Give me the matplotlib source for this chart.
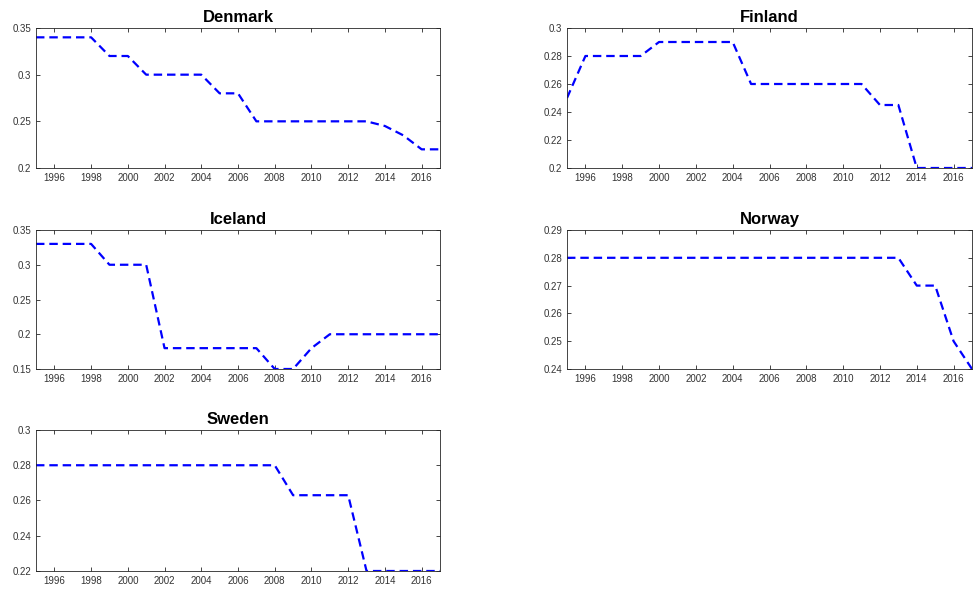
import numpy as np
import matplotlib
matplotlib.use("Agg")
import matplotlib.pyplot as plt

plt.rcParams['font.family'] = ['Liberation Sans', 'DejaVu Sans']

years = list(range(1995, 2018))

denmark = [0.34, 0.34, 0.34, 0.34, 0.32, 0.32, 0.30, 0.30, 0.30, 0.30, 0.28, 0.28,
           0.25, 0.25, 0.25, 0.25, 0.25, 0.25, 0.25, 0.245, 0.235, 0.22, 0.22]
finland = [0.25, 0.28, 0.28, 0.28, 0.28, 0.29, 0.29, 0.29, 0.29, 0.29, 0.26, 0.26,
           0.26, 0.26, 0.26, 0.26, 0.26, 0.245, 0.245, 0.20, 0.20, 0.20, 0.20]
iceland = [0.33, 0.33, 0.33, 0.33, 0.30, 0.30, 0.30, 0.18, 0.18, 0.18, 0.18, 0.18,
           0.18, 0.15, 0.15, 0.18, 0.20, 0.20, 0.20, 0.20, 0.20, 0.20, 0.20]
norway = [0.28] * 19 + [0.27, 0.27, 0.25, 0.24]
sweden = [0.28] * 14 + [0.263, 0.263, 0.263, 0.263] + [0.22] * 5

countries = ['Denmark', 'Finland', 'Iceland', 'Norway', 'Sweden']
series = [denmark, finland, iceland, norway, sweden]
ylims = [(0.2, 0.35), (0.2, 0.3), (0.15, 0.35), (0.24, 0.29), (0.22, 0.3)]
yticks = [[0.2, 0.25, 0.3, 0.35],
          [0.2, 0.22, 0.24, 0.26, 0.28, 0.3],
          [0.15, 0.2, 0.25, 0.3, 0.35],
          [0.24, 0.25, 0.26, 0.27, 0.28, 0.29],
          [0.22, 0.24, 0.26, 0.28, 0.3]]
xticks = list(range(1996, 2017, 2))

W, H = 973, 592
# axes boxes in pixels: left, top, right, bottom
boxes = [(36, 28, 440, 168), (567, 28, 972, 168),
         (36, 230, 440, 369), (567, 230, 972, 369),
         (36, 430, 440, 571)]

fig = plt.figure(figsize=(W / 100, H / 100), dpi=100)

def fmt(v):
    return f"{v:.2f}".rstrip('0').rstrip('.')

for name, vals, yl, yt, (l, t, r, b) in zip(countries, series, ylims, yticks, boxes):
    ax = fig.add_axes([l / W, 1 - b / H, (r - l) / W, (b - t) / H])
    ax.plot(years, vals, color='#0000ff', linestyle='--', linewidth=1.6,
            dashes=(3.8, 2.2))
    ax.set_xlim(1995, 2017)
    ax.set_ylim(*yl)
    ax.set_xticks(xticks)
    ax.set_yticks(yt)
    ax.set_yticklabels([fmt(v) for v in yt])
    ax.tick_params(direction='in', top=True, right=True, labelsize=7,
                   length=3, width=0.6, colors='#262626', labelcolor='#333333')
    for sp in ax.spines.values():
        sp.set_linewidth(0.6)
        sp.set_color('#262626')
    ax.set_title(name, fontsize=12, fontweight='bold', pad=4)

fig.savefig('out.png', dpi=100)
